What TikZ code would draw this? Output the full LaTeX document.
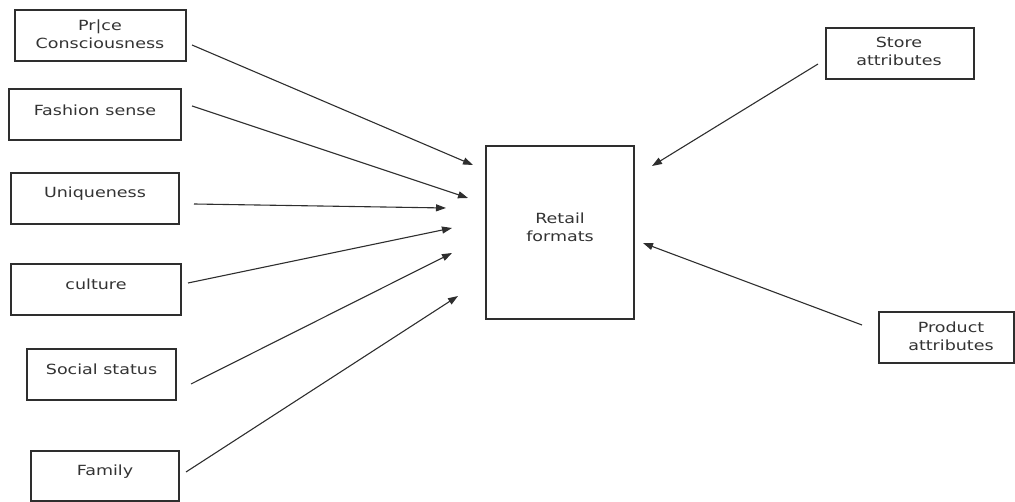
\documentclass[tikz,border=0pt]{standalone}
\usepackage{fontspec}
\newfontfamily\dvs[FakeStretch=1.25]{DejaVu Sans}
\usetikzlibrary{arrows.meta}
\definecolor{ink}{HTML}{2E2E2E}
\definecolor{txt}{HTML}{333333}
\tikzset{
  boxnode/.style={draw=ink, line width=1.3pt, inner sep=0pt, fill=none},
  lbl/.style={inner sep=0pt, align=center, text=txt, font=\dvs\fontsize{14}{18}\selectfont},
  conn/.style={draw=ink, line width=1.1pt, -{Triangle[length=10pt,width=7pt]}}
}
\begin{document}
\begin{tikzpicture}[x=1pt,y=-1pt]
\useasboundingbox (0,0) rectangle (1015,502);
% boxes
\node[boxnode, minimum width=171pt, minimum height=51pt] (b1) at (100.5,35.5) {};
\node[boxnode, minimum width=172pt, minimum height=51pt] (b2) at (95,114.5) {};
\node[boxnode, minimum width=168pt, minimum height=51pt] (b3) at (95,198.5) {};
\node[boxnode, minimum width=170pt, minimum height=51pt] (b4) at (96,289.5) {};
\node[boxnode, minimum width=149pt, minimum height=51pt] (b5) at (101.5,374.5) {};
\node[boxnode, minimum width=148pt, minimum height=50pt] (b6) at (105,476) {};
\node[boxnode, minimum width=148pt, minimum height=173pt] (rf) at (560,232.5) {};
\node[boxnode, minimum width=148pt, minimum height=51pt] (st) at (900,53.5) {};
\node[boxnode, minimum width=135pt, minimum height=51pt] (pa) at (946.5,337.5) {};
% labels
\node[lbl] (t1) at (100,34) {Pr|ce\\Consciousness};
\node[lbl] (t2) at (95,110) {Fashion sense};
\node[lbl] (t3) at (95,193.5) {Uniqueness};
\node[lbl] (t4) at (96,284.5) {culture};
\node[lbl] (t5) at (101.5,369.5) {Social status};
\node[lbl] (t6) at (105,472) {Family};
\node[lbl] (tr) at (560,227) {Retail\\formats};
\node[lbl] (ts) at (899,51.5) {Store\\attributes};
\node[lbl] (tp) at (951,336) {Product\\attributes};
% connector ends
\coordinate (a1s) at (192,45);  \coordinate (a1e) at (473,165);
\coordinate (a2s) at (192,106); \coordinate (a2e) at (468,198);
\coordinate (a3s) at (194,204); \coordinate (a3e) at (446,208);
\coordinate (a4s) at (188,283); \coordinate (a4e) at (452,228);
\coordinate (a5s) at (191,384); \coordinate (a5e) at (452,253);
\coordinate (a6s) at (186,472); \coordinate (a6e) at (458,296);
\coordinate (ss) at (818,64);   \coordinate (se) at (652,166);
\coordinate (ps) at (862,325);  \coordinate (pe) at (643,243);
% connectors
\draw[conn] (a1s) -- (a1e);
\draw[conn] (a2s) -- (a2e);
\draw[conn] (a3s) -- (a3e);
\draw[conn] (a4s) -- (a4e);
\draw[conn] (a5s) -- (a5e);
\draw[conn] (a6s) -- (a6e);
\draw[conn] (ss) -- (se);
\draw[conn] (ps) -- (pe);
\end{tikzpicture}
\end{document}
